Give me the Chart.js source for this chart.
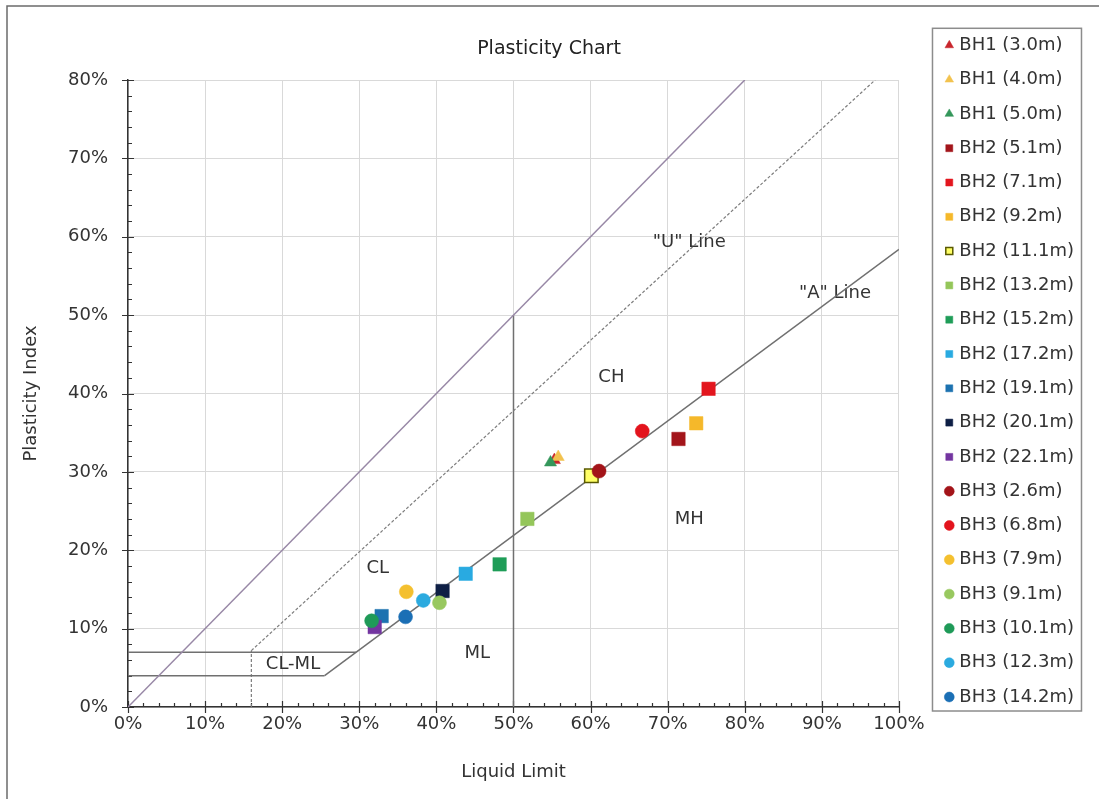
<!DOCTYPE html>
<html>
<head>
<meta charset="utf-8">
<title>Plasticity Chart</title>
<script src="https://cdn.jsdelivr.net/npm/chart.js@4.4.1/dist/chart.umd.min.js"></script>
<style>
  html, body { margin: 0; padding: 0; background: #fff; }
  #wrap { width: 1099px; height: 799px; }
</style>
</head>
<body>
<div id="wrap"><canvas id="plasticity-chart" width="1099" height="799"></canvas></div>
<script>
// samples (legend order)
const sampleNames = [
  'BH1 (3.0m)', 'BH1 (4.0m)', 'BH1 (5.0m)',
  'BH2 (5.1m)', 'BH2 (7.1m)', 'BH2 (9.2m)', 'BH2 (11.1m)', 'BH2 (13.2m)',
  'BH2 (15.2m)', 'BH2 (17.2m)', 'BH2 (19.1m)', 'BH2 (20.1m)', 'BH2 (22.1m)',
  'BH3 (2.6m)', 'BH3 (6.8m)', 'BH3 (7.9m)', 'BH3 (9.1m)', 'BH3 (10.1m)',
  'BH3 (12.3m)', 'BH3 (14.2m)'
];
// liquid limit, %
const liquidLimit = [55.3, 55.8, 54.8, 71.4, 75.3, 73.7, 60.1, 51.8, 48.2, 43.8,
  32.9, 40.8, 32.0, 61.1, 66.7, 36.1, 40.4, 31.6, 38.3, 36.0];
// plasticity index, %
const plasticityIndex = [31.5, 31.9, 31.2, 34.2, 40.6, 36.2, 29.5, 24.0, 18.2, 17.0,
  11.6, 14.8, 10.2, 30.1, 35.2, 14.7, 13.3, 11.0, 13.6, 11.5];

const markerShapes = [
  'triangle', 'triangle', 'triangle',
  'rect', 'rect', 'rect', 'rect', 'rect', 'rect', 'rect', 'rect', 'rect', 'rect',
  'circle', 'circle', 'circle', 'circle', 'circle', 'circle', 'circle'
];
const markerColors = [
  '#C8262D', '#F2C24E', '#34975B',
  '#A3151B', '#E3161E', '#F5B82A', '#FFFF66', '#94C65A', '#1F9D58', '#29AAE1',
  '#1D72B0', '#0E1F45', '#7335A0',
  '#A31419', '#E3141D', '#F4C02F', '#98C85F', '#1F9A58', '#2BAADF', '#1B6FB5'
];

// classification lines: [liquid limit, plasticity index] end points
const aLine = [[25.5, 4], [100, 58.4]];
const uLine = [[16, 7.2], [96.9, 80]];
const equalLine = [[0, 0], [80, 80]];
const llFifty = [[50, 0], [50, 50]];
const clml7 = [[0, 7], [29.6, 7]];
const clml4 = [[0, 4], [25.5, 4]];
const uFoot = [[16, 0], [16, 7.2]];

const FONT = 'DejaVu Sans';
const TEXT = '#333';

const shapeRadius = { triangle: 7, rect: 9.5, circle: 7 };

const pointSets = sampleNames.map((name, i) => ({
  label: name,
  data: [{ x: liquidLimit[i], y: plasticityIndex[i] }],
  pointStyle: markerShapes[i],
  pointRadius: shapeRadius[markerShapes[i]],
  pointHoverRadius: shapeRadius[markerShapes[i]],
  backgroundColor: markerColors[i],
  borderColor: name === 'BH2 (11.1m)' ? '#5a5a00' : markerColors[i],
  borderWidth: name === 'BH2 (11.1m)' ? 1.5 : 0.5,
  order: 100 - i
}));

function guide(points, color, width, dash) {
  return {
    label: '',
    isGuide: true,
    data: points.map(p => ({ x: p[0], y: p[1] })),
    showLine: true,
    borderColor: color,
    borderWidth: width,
    borderDash: dash || [],
    pointRadius: 0,
    pointHoverRadius: 0,
    fill: false,
    order: 1000
  };
}

const guideSets = [
  guide(equalLine, '#9888a6', 1.5),
  guide(uLine, '#7d7d7d', 1.2, [3, 2]),
  guide(aLine, '#707070', 1.5),
  guide(llFifty, '#707070', 1.5),
  guide(clml7, '#707070', 1.5),
  guide(clml4, '#707070', 1.5),
  guide(uFoot, '#7d7d7d', 1.2, [3, 2])
];

const zoneLabels = [
  { text: 'CL', x: 32.4, y: 17.7 },
  { text: 'CH', x: 62.7, y: 42.0 },
  { text: 'MH', x: 72.8, y: 24.0 },
  { text: 'ML', x: 45.3, y: 6.8 },
  { text: 'CL-ML', x: 21.4, y: 5.5 },
  { text: '"U" Line', x: 72.8, y: 59.3 },
  { text: '"A" Line', x: 91.7, y: 52.8 }
];

const extras = {
  id: 'extras',
  beforeDraw(chart) {
    const ctx = chart.ctx;
    ctx.save();
    ctx.fillStyle = '#fff';
    ctx.fillRect(0, 0, chart.width, chart.height);
    ctx.strokeStyle = '#6b6b6b';
    ctx.lineWidth = 1.5;
    ctx.beginPath();
    ctx.moveTo(7, chart.height);
    ctx.lineTo(7, 6);
    ctx.lineTo(chart.width, 6);
    ctx.stroke();
    ctx.restore();
  },
  beforeDatasetsDraw(chart) {
    const ctx = chart.ctx;
    const xs = chart.scales.x, ys = chart.scales.y;
    const left = chart.chartArea.left, bottom = chart.chartArea.bottom;
    ctx.save();
    ctx.strokeStyle = '#333';
    ctx.lineWidth = 1.2;
    ctx.beginPath();
    for (let v = 0; v <= 100; v += 2) {
      const px = Math.round(xs.getPixelForValue(v)) + 0.5;
      const major = v % 10 === 0;
      ctx.moveTo(px, bottom - (major ? 6 : 4));
      ctx.lineTo(px, bottom + (major ? 6 : 0));
    }
    for (let v = 0; v <= 80; v += 2) {
      const py = Math.round(ys.getPixelForValue(v)) + 0.5;
      const major = v % 10 === 0;
      ctx.moveTo(left - (major ? 6 : 0), py);
      ctx.lineTo(left + (major ? 6 : 4), py);
    }
    ctx.stroke();

    ctx.fillStyle = TEXT;
    ctx.font = '18px "' + FONT + '"';
    ctx.textAlign = 'center';
    ctx.textBaseline = 'middle';
    zoneLabels.forEach(l => {
      ctx.fillText(l.text, xs.getPixelForValue(l.x), ys.getPixelForValue(l.y));
    });
    ctx.restore();
  },
  afterDraw(chart) {
    const lg = chart.legend;
    const boxes = lg.legendHitBoxes;
    if (!boxes || !boxes.length) return;
    const first = boxes[0], last = boxes[boxes.length - 1];
    const ctx = chart.ctx;
    ctx.save();
    ctx.strokeStyle = '#8c8c8c';
    ctx.lineWidth = 1.5;
    const top = first.top - 8;
    const bottom = last.top + last.height + 5;
    ctx.strokeRect(lg.left + 0.5, top, 149, bottom - top);
    ctx.restore();
  }
};

new Chart(document.getElementById('plasticity-chart'), {
  type: 'scatter',
  data: { datasets: pointSets.concat(guideSets) },
  options: {
    responsive: false,
    animation: false,
    events: [],
    layout: { padding: { top: 20, left: 14, right: 15, bottom: 12 } },
    plugins: {
      title: {
        display: true,
        text: 'Plasticity Chart',
        color: '#222',
        font: { family: FONT, size: 19, weight: 'normal' },
        padding: { top: 17.6, bottom: 19.6 }
      },
      legend: {
        position: 'right',
        align: 'start',
        labels: {
          usePointStyle: true,
          boxWidth: 2,
          boxHeight: 7,
          padding: 16.3,
          color: TEXT,
          font: { family: FONT, size: 18 },
          filter: (item, data) => !data.datasets[item.datasetIndex].isGuide,
          sort: (a, b) => a.datasetIndex - b.datasetIndex
        }
      },
      tooltip: { enabled: false }
    },
    scales: {
      x: {
        type: 'linear',
        min: 0,
        max: 100,
        ticks: {
          stepSize: 10,
          padding: 7,
          color: TEXT,
          maxRotation: 0,
          font: { family: FONT, size: 18 },
          callback: v => v + '%'
        },
        grid: { color: '#d9d9d9', lineWidth: 1, drawTicks: false },
        border: { color: '#333', width: 1.5 },
        title: {
          display: true,
          text: 'Liquid Limit',
          color: TEXT,
          font: { family: FONT, size: 18 },
          padding: { top: 0, bottom: 4 }
        },
        afterFit(s) { s.height = 80; }
      },
      y: {
        type: 'linear',
        min: 0,
        max: 80,
        ticks: {
          stepSize: 10,
          padding: 20,
          color: TEXT,
          font: { family: FONT, size: 18 },
          callback: v => v + '%'
        },
        grid: { color: '#d9d9d9', lineWidth: 1, drawTicks: false },
        border: { color: '#333', width: 1.5 },
        title: {
          display: true,
          text: 'Plasticity Index',
          color: TEXT,
          font: { family: FONT, size: 18 },
          padding: { top: 7, bottom: 0 }
        },
        afterFit(s) { s.width = 114; }
      },
      y2: {
        position: 'right',
        display: true,
        min: 0,
        max: 1,
        grid: { display: false },
        ticks: { display: false },
        border: { display: false },
        afterFit(s) { s.width = 33; }
      }
    }
  },
  plugins: [extras]
});
</script>
</body>
</html>
